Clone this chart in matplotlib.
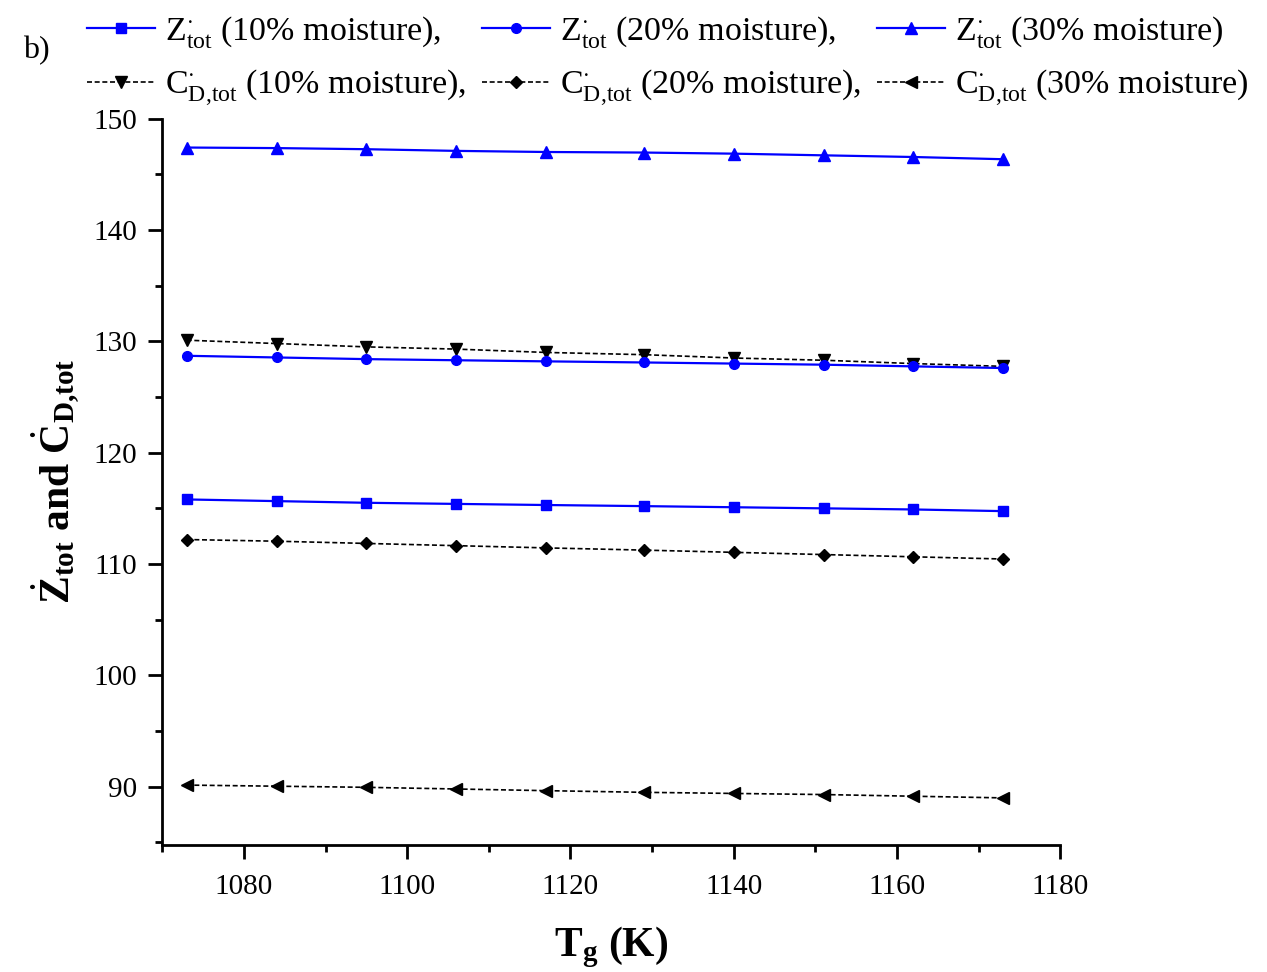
import numpy as np
import matplotlib
matplotlib.use("Agg")
import matplotlib.pyplot as plt
from matplotlib.ticker import MultipleLocator

# serif text everywhere, math in the same face
plt.rcParams['font.family'] = ['Liberation Serif', 'DejaVu Serif']
plt.rcParams['mathtext.fontset'] = 'custom'
plt.rcParams['mathtext.rm'] = 'Liberation Serif'
plt.rcParams['mathtext.it'] = 'Liberation Serif:italic'
plt.rcParams['mathtext.bf'] = 'Liberation Serif:bold'

# gasification temperature (K)
tg = [1073, 1084, 1095, 1106, 1117, 1129, 1140, 1151, 1162, 1173]

# total cost rates, Z_tot
z_10 = [115.8, 115.65, 115.5, 115.4, 115.3, 115.2, 115.1, 115.0, 114.9, 114.75]
z_20 = [128.7, 128.55, 128.4, 128.3, 128.2, 128.1, 128.0, 127.9, 127.75, 127.6]
z_30 = [147.4, 147.35, 147.25, 147.1, 147.0, 146.95, 146.85, 146.7, 146.55, 146.35]

# exergy destruction cost rates, C_D,tot
c_10 = [130.1, 129.8, 129.5, 129.3, 129.0, 128.8, 128.5, 128.3, 128.0, 127.75]
c_20 = [112.2, 112.05, 111.85, 111.65, 111.45, 111.25, 111.05, 110.85, 110.65, 110.45]
c_30 = [90.15, 90.05, 89.95, 89.8, 89.65, 89.5, 89.4, 89.3, 89.15, 89.0]

moist = ['10%', '20%', '30%']

fig = plt.figure(figsize=(12.67, 9.72), dpi=100)
ax = fig.add_axes([0.128, 0.131, 0.709, 0.747])

blue = '#0000FF'
dash = (0, (3, 1.6))

hz = []
hc = []
for zv, cv, mz, mc, ms_z, ms_c, m in zip([z_10, z_20, z_30], [c_10, c_20, c_30],
                                        ['s', 'o', '^'], ['v', 'D', '<'],
                                        [7, 7, 8.5], [8.5, 6.5, 8.5], moist):
    end = ',' if m != '30%' else ''
    l1, = ax.plot(tg, zv, color=blue, lw=1.6, marker=mz, ms=ms_z,
                  label=r'$\mathrm{Z}^{\cdot}_{\mathrm{tot}}$ (' + m + ' moisture)' + end)
    l2, = ax.plot(tg, cv, color='black', lw=1.2, ls=dash, marker=mc, ms=ms_c,
                  label=r'$\mathrm{C}^{\cdot}_{\mathrm{D{,}tot}}$ (' + m + ' moisture)' + end)
    hz.append(l1)
    hc.append(l2)

ax.set_xlim(1070, 1180)
ax.set_ylim(84.8, 150)
ax.xaxis.set_major_locator(MultipleLocator(20))
ax.xaxis.set_minor_locator(MultipleLocator(10))
ax.yaxis.set_major_locator(MultipleLocator(10))
ax.yaxis.set_minor_locator(MultipleLocator(5))
ax.set_yticks(np.arange(90, 151, 10))

for s in ['top', 'right']:
    ax.spines[s].set_visible(False)
for s in ['left', 'bottom']:
    ax.spines[s].set_linewidth(2)

ax.tick_params(axis='both', which='major', direction='out', length=10, width=2,
               labelsize=21, pad=8)
ax.tick_params(axis='both', which='minor', direction='out', length=5, width=2)
ax.tick_params(axis='x', which='major', pad=11)

ax.set_xlabel(r'$\mathbf{T_{g}}$ (K)', fontsize=30, fontweight='bold', labelpad=18)
ax.set_ylabel(r'$\dot{\mathbf{Z}}_{\mathbf{tot}}$ and $\dot{\mathbf{C}}_{\mathbf{D{,}tot}}$',
              fontsize=30, fontweight='bold', labelpad=8)

handles = [hz[0], hc[0], hz[1], hc[1], hz[2], hc[2]]
fig.legend(handles=handles, labels=[h.get_label() for h in handles],
           ncol=3, loc='upper left', bbox_to_anchor=(0.058, 1.0),
           frameon=False, fontsize=24.5, handlelength=2.0, handletextpad=0.3,
           columnspacing=0.45, labelspacing=0.52, borderaxespad=0)

fig.text(0.018, 0.94, 'b)', fontsize=23)

plt.savefig('out.png', dpi=100)
